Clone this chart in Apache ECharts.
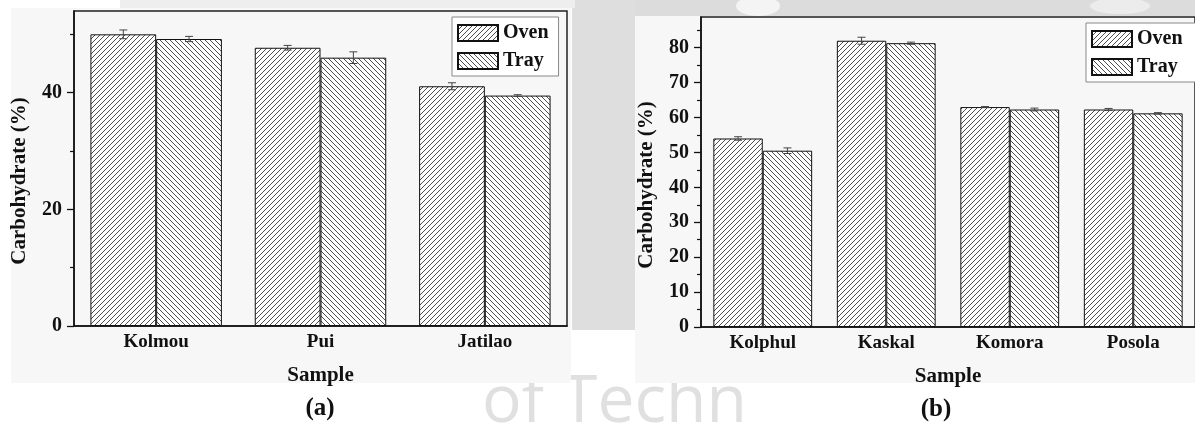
<!DOCTYPE html>
<html><head><meta charset="utf-8">
<script src="https://cdn.jsdelivr.net/npm/echarts@6/dist/echarts.min.js"></script>
<style>html,body{margin:0;padding:0;background:#fff}#c{width:1195px;height:425px}</style>
</head><body><div id="c"></div>
<script>
// ---- data ----
const categoriesA = ['Kolmou', 'Pui', 'Jatilao'];
const ovenA = [50.0, 47.7, 41.1];
const trayA = [49.2, 46.0, 39.5];
const ovenErrA = [0.75, 0.4, 0.6];
const trayErrA = [0.45, 1.0, 0.15];

const categoriesB = ['Kolphul', 'Kaskal', 'Komora', 'Posola'];
const ovenB = [54.0, 82.0, 63.0, 62.3];
const trayB = [50.5, 81.3, 62.3, 61.2];
const ovenErrB = [0.5, 1.0, 0.15, 0.3];
const trayErrB = [0.8, 0.3, 0.4, 0.2];

const majorTicksA = [0, 20, 40];
const minorTicksA = [10, 30, 50];
const majorTicksB = [0, 10, 20, 30, 40, 50, 60, 70, 80];
const minorTicksB = [5, 15, 25, 35, 45, 55, 65, 75, 85];

const seriesNames = ['Oven', 'Tray'];
const axisTitleY = 'Carbohydrate (%)';
const axisTitleX = 'Sample';
const panelLabels = ['(a)', '(b)'];

// ---- styling ----
const FONT = '"Liberation Serif", "Times New Roman", serif';
const INK = '#111';

function hatch(dir) {
  const s = 5;
  const c = document.createElement('canvas');
  c.width = s; c.height = s;
  const g = c.getContext('2d');
  g.fillStyle = '#ffffff';
  g.fillRect(0, 0, s, s);
  g.strokeStyle = '#3a3a3a';
  g.lineWidth = 0.9;
  g.beginPath();
  if (dir > 0) {
    g.moveTo(0, s); g.lineTo(s, 0);
    g.moveTo(-1, 1); g.lineTo(1, -1);
    g.moveTo(s - 1, s + 1); g.lineTo(s + 1, s - 1);
  } else {
    g.moveTo(0, 0); g.lineTo(s, s);
    g.moveTo(-1, s - 1); g.lineTo(1, s + 1);
    g.moveTo(s - 1, -1); g.lineTo(s + 1, 1);
  }
  g.stroke();
  return c;
}
const ovenFill = { image: hatch(1), repeat: 'repeat' };
const trayFill = { image: hatch(-1), repeat: 'repeat' };

function xAxisDef(gridIndex, cats) {
  return {
    type: 'category', gridIndex, data: cats,
    axisLine: { lineStyle: { color: INK, width: 1.5 } },
    axisTick: { show: false },
    axisLabel: { margin: 7, fontFamily: FONT, fontWeight: 'bold', fontSize: 19, color: INK },
    name: axisTitleX, nameLocation: 'middle', nameGap: 39,
    nameTextStyle: { fontFamily: FONT, fontWeight: 'bold', fontSize: 21, color: INK },
    splitLine: { show: false }
  };
}
function yAxisMain(gridIndex, max, ticks) {
  return {
    type: 'value', gridIndex, min: 0, max, position: 'left',
    axisLine: { show: true, lineStyle: { color: INK, width: 1.5 } },
    axisTick: { show: true, length: 7, customValues: ticks, lineStyle: { color: INK, width: 1.3 } },
    axisLabel: { customValues: ticks, margin: 12, fontFamily: FONT, fontWeight: 'bold', fontSize: 20, color: INK },
    splitLine: { show: false }
  };
}
function yAxisMinor(gridIndex, max, ticks) {
  return {
    type: 'value', gridIndex, min: 0, max, position: 'left',
    axisLine: { show: false },
    axisTick: { show: true, length: 4, customValues: ticks, lineStyle: { color: INK, width: 1.2 } },
    axisLabel: { show: false },
    splitLine: { show: false }
  };
}
function barSeries(name, fill, data, xi, yi) {
  return {
    type: 'bar', name, xAxisIndex: xi, yAxisIndex: yi, data,
    barGap: '0%', barCategoryGap: '20%',
    itemStyle: { color: fill, borderColor: '#111', borderWidth: 1 },
    emphasis: { disabled: true }, z: 2
  };
}
function errSeries(vals, errs, offset, xi, yi) {
  return {
    type: 'custom', xAxisIndex: xi, yAxisIndex: yi, z: 5, silent: true,
    data: vals.map((v, i) => [i, v, errs[i]]),
    renderItem: function (params, api) {
      const ci = api.value(0), v = api.value(1), e = api.value(2);
      const band = api.size([1, 0])[0];
      const x = api.coord([ci, v])[0] + offset * band;
      const yh = api.coord([ci, v + e])[1];
      const yl = api.coord([ci, v - e])[1];
      const w = 4;
      const st = { stroke: '#444', lineWidth: 1 };
      return {
        type: 'group', children: [
          { type: 'line', shape: { x1: x, y1: yh, x2: x, y2: yl }, style: st },
          { type: 'line', shape: { x1: x - w, y1: yh, x2: x + w, y2: yh }, style: st },
          { type: 'line', shape: { x1: x - w, y1: yl, x2: x + w, y2: yl }, style: st }
        ]
      };
    }
  };
}
function legendDef(left, top, padRight) {
  return {
    left, top, orient: 'vertical', selectedMode: false,
    data: seriesNames, icon: 'rect',
    itemWidth: 40, itemHeight: 16, itemGap: 8,
    padding: [6, padRight, 5, 5],
    borderColor: '#888', borderWidth: 1, backgroundColor: '#fff',
    textStyle: { fontFamily: FONT, fontWeight: 'bold', fontSize: 20, color: INK }
  };
}

const chart = echarts.init(document.getElementById('c'), null, { renderer: 'canvas' });
chart.setOption({
  animation: false,
  backgroundColor: '#ffffff',
  graphic: [
    // faint watermark behind the panels
    { type: 'rect', z: -30, shape: { x: 575, y: 0, width: 620, height: 16 }, style: { fill: '#dcdcdc' } },
    { type: 'ellipse', z: -29, shape: { cx: 758, cy: 6, rx: 22, ry: 10 }, style: { fill: '#f4f4f4' } },
    { type: 'ellipse', z: -29, shape: { cx: 1120, cy: 6, rx: 30, ry: 8 }, style: { fill: '#ececec' } },
    { type: 'rect', z: -30, shape: { x: 572, y: 0, width: 63, height: 330 }, style: { fill: '#dedede' } },
    { type: 'rect', z: -30, shape: { x: 120, y: 0, width: 455, height: 8 }, style: { fill: '#eeeeee' } },
    { type: 'text', z: -28, x: 482, y: 436, style: { text: 'of Techn', fontFamily: '"Open Sans", sans-serif', fontSize: 66, fill: '#e0e0e0', textVerticalAlign: 'bottom' } },
    // panel backgrounds
    { type: 'rect', z: -20, shape: { x: 11, y: 8, width: 560, height: 375 }, style: { fill: '#f7f7f7' } },
    { type: 'rect', z: -20, shape: { x: 635, y: 16, width: 560, height: 367 }, style: { fill: '#f7f7f7' } },
    // y-axis titles
    { type: 'text', z: 10, x: 20, y: 181, rotation: Math.PI / 2,
      style: { text: axisTitleY, fontFamily: FONT, fontWeight: 'bold', fontSize: 21, fill: INK, textAlign: 'center', textVerticalAlign: 'middle' } },
    { type: 'text', z: 10, x: 647, y: 185, rotation: Math.PI / 2,
      style: { text: axisTitleY, fontFamily: FONT, fontWeight: 'bold', fontSize: 21, fill: INK, textAlign: 'center', textVerticalAlign: 'middle' } },
    // panel labels
    { type: 'text', z: 10, x: 320, y: 409,
      style: { text: panelLabels[0], fontFamily: FONT, fontWeight: 'bold', fontSize: 25, fill: INK, textAlign: 'center', textVerticalAlign: 'middle' } },
    { type: 'text', z: 10, x: 936, y: 410,
      style: { text: panelLabels[1], fontFamily: FONT, fontWeight: 'bold', fontSize: 25, fill: INK, textAlign: 'center', textVerticalAlign: 'middle' } }
  ],
  grid: [
    { left: 74, top: 11, width: 493, height: 315, show: true, borderColor: '#222', borderWidth: 1.5, backgroundColor: 'transparent' },
    { left: 701, top: 17, width: 504, height: 310, show: true, borderColor: '#222', borderWidth: 1.5, backgroundColor: 'transparent' }
  ],
  legend: [legendDef(452, 17, 10), legendDef(1086, 23, 16)],
  xAxis: [xAxisDef(0, categoriesA), xAxisDef(1, categoriesB)],
  yAxis: [
    yAxisMain(0, 54, majorTicksA), yAxisMinor(0, 54, minorTicksA),
    yAxisMain(1, 88.8, majorTicksB), yAxisMinor(1, 88.8, minorTicksB)
  ],
  series: [
    barSeries(seriesNames[0], ovenFill, ovenA, 0, 0),
    barSeries(seriesNames[1], trayFill, trayA, 0, 0),
    barSeries(seriesNames[0], ovenFill, ovenB, 1, 2),
    barSeries(seriesNames[1], trayFill, trayB, 1, 2),
    errSeries(ovenA, ovenErrA, -0.2, 0, 0),
    errSeries(trayA, trayErrA, 0.2, 0, 0),
    errSeries(ovenB, ovenErrB, -0.2, 1, 2),
    errSeries(trayB, trayErrB, 0.2, 1, 2)
  ]
});
</script></body></html>
